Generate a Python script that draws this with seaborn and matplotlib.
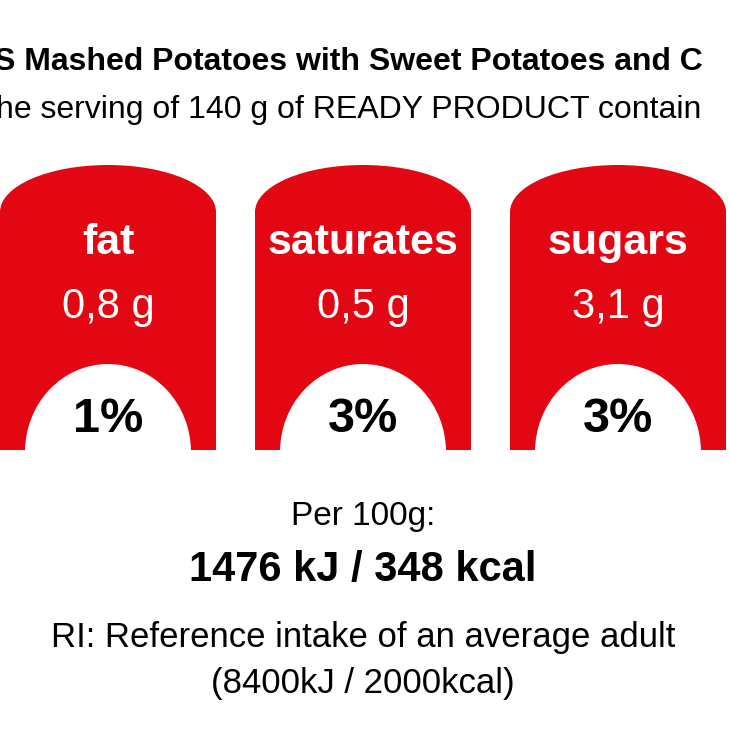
import matplotlib
matplotlib.use("Agg")
import matplotlib.pyplot as plt
import seaborn as sns
from matplotlib.patches import Ellipse, Rectangle

nutrients = ["fat", "saturates", "sugars"]
amounts = ["0,8 g", "0,5 g", "3,1 g"]
percents = ["1%", "3%", "3%"]
title_line1 = "S Mashed Potatoes with Sweet Potatoes and C"
title_line2 = "he serving of 140 g of READY PRODUCT contain"
per_label = "Per 100g:"
energy = "1476 kJ / 348 kcal"
ri1 = "RI: Reference intake of an average adult"
ri2 = "(8400kJ / 2000kcal)"

sns.set_theme(style="white")
plt.rcParams['font.family'] = ['Liberation Sans', 'DejaVu Sans']
plt.rcParams['text.color'] = 'black'

RED = "#E30613"
fig = plt.figure(figsize=(7.3, 7.3), dpi=100)
ax = fig.add_axes([0, 0, 1, 1])
ax.set_xlim(0, 730)
ax.set_ylim(730, 0)
ax.axis("off")

centers = [108, 363, 618]
W = 216
for cx, n, a, p in zip(centers, nutrients, amounts, percents):
    ax.add_patch(Ellipse((cx, 212), W, 94, color=RED, lw=0))
    ax.add_patch(Rectangle((cx - W / 2, 212), W, 238, color=RED, lw=0))
    ax.add_patch(Ellipse((cx, 452), 166, 176, color="white", lw=0))
    ax.text(cx, 243, n, color="white", fontsize=31, fontweight="bold", ha="center", va="center")
    ax.text(cx, 307, a, color="white", fontsize=30, ha="center", va="center")
    ax.text(cx, 420, p, color="black", fontsize=35, fontweight="bold", ha="center", va="center")

ax.text(-6, 62, title_line1, fontsize=23, fontweight="bold", ha="left", va="center")
ax.text(-4, 110, title_line2, fontsize=23, ha="left", va="center")
ax.text(363, 517, per_label, fontsize=24, ha="center", va="center")
ax.text(363, 570, energy, fontsize=30, fontweight="bold", ha="center", va="center")
ax.text(363, 637, ri1, fontsize=25, ha="center", va="center")
ax.text(363, 683, ri2, fontsize=25, ha="center", va="center")

fig.savefig("out.png", dpi=100)
